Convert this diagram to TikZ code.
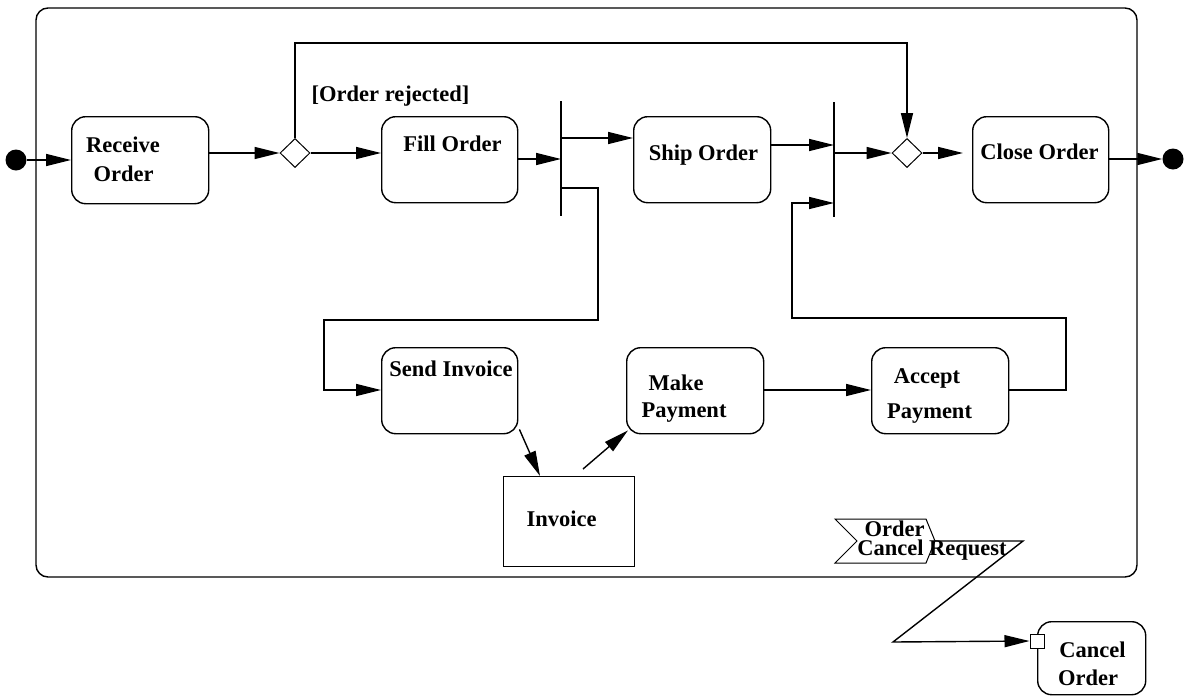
\documentclass[tikz,border=0pt]{standalone}
\usepackage{fontspec}
\setmainfont{Liberation Serif}
\usetikzlibrary{arrows.meta,shapes.geometric,calc}
\begin{document}
\begin{tikzpicture}[x=1pt,y=-1pt,
  every node/.style={font=\fontsize{22.5}{27}\selectfont\bfseries},
  act/.style={draw,line width=1.4pt,rounded corners=14pt,inner sep=0pt,anchor=north west},
  obj/.style={draw,line width=1.4pt,inner sep=0pt,anchor=north west},
  txt/.style={anchor=base,inner sep=0pt},
  dec/.style={draw,diamond,line width=1pt,inner sep=0pt,minimum width=30pt,minimum height=29pt},
  dot/.style={circle,fill=black,inner sep=0pt,minimum size=21pt},
  barnode/.style={inner sep=0pt,minimum width=0pt,minimum height=114pt},
  flow/.style={line width=1.4pt,-{Triangle[length=25pt,width=12pt]}}]
\useasboundingbox (0,0) rectangle (1184,697);

% activity frame
\draw[line width=1.4pt,rounded corners=12pt] (36,8) rectangle (1137,577);

% initial and final nodes
\node[dot] (ini) at (16,160) {};
\node[dot] (fin) at (1173,159) {};

% actions
\node[act,minimum width=137pt,minimum height=87pt] (recv) at (71,116) {};
\node[act,minimum width=136pt,minimum height=86pt] (fill) at (381,116) {};
\node[act,minimum width=137pt,minimum height=86pt] (ship) at (633,116) {};
\node[act,minimum width=136pt,minimum height=86pt] (close) at (972,116) {};
\node[act,minimum width=136pt,minimum height=86pt] (send) at (381,347) {};
\node[act,minimum width=137pt,minimum height=86pt] (make) at (626,347) {};
\node[act,minimum width=137pt,minimum height=86pt] (accept) at (871,347) {};
\node[act,minimum width=108pt,minimum height=73pt] (cancel) at (1037,621) {};
\node[obj,minimum width=131pt,minimum height=90pt] (inv) at (503,476) {};

% labels of the actions
\node[txt] (recvA) at (123,152.7) {Receive};
\node[txt] (recvB) at (123.5,181.7) {Order};
\node[txt] (fillT) at (452.5,151.7) {Fill Order};
\node[txt] (shipT) at (703.5,160) {Ship Order};
\node[txt] (closeT) at (1039.5,159) {Close Order};
\node[txt] (sendT) at (451,376) {Send Invoice};
\node[txt] (invT) at (561.5,526.5) {Invoice};
\node[txt] (makeA) at (676,390) {Make};
\node[txt] (makeB) at (684,417) {Payment};
\node[txt] (accA) at (927,383) {Accept};
\node[txt] (accB) at (929.5,418) {Payment};
\node[txt] (cancA) at (1092.5,657) {Cancel};
\node[txt] (cancB) at (1088,685) {Order};
\node[txt] (guard) at (390.5,101.7) {[Order rejected]};

% decision / merge nodes
\node[dec] (d1) at (295,153) {};
\node[dec] (d2) at (907,153) {};

% fork and join bars
\node[barnode] (fork) at (561,158.5) {};
\node[barnode] (join) at (834,159.5) {};
\draw[line width=2pt] (fork.north) -- (fork.south);
\draw[line width=2pt] (join.north) -- (join.south);

% accept event action with its pin target
\draw[line width=1pt] (835,519) -- (926,519) -- (935,541) -- (926,563) -- (835,563) -- (857,541) -- cycle;
\coordinate (sig) at (935,541);
\node[txt] (sigA) at (894.5,536) {Order};
\node[txt] (sigB) at (932,555) {Cancel Request};
\node[draw,line width=1pt,inner sep=0pt,minimum size=14pt,fill=white] (pin) at (1037,641) {};

% control flows
\draw[flow] (ini.east) -- (recv.west |- ini);
\draw[flow] (recv.east |- d1) -- (d1.west);
\draw[flow] (d1.east) -- (fill.west |- d1);
\draw[flow] (d1.north) -- (d1.north |- 0,43) -| (d2.north);
\draw[flow] (fill.east |- 0,159) -- (fork.center |- 0,159);
\draw[flow] (fork.center |- 0,138) -- (ship.west |- 0,138);
\draw[flow] (fork.center |- 0,188) -- (598,188) -- (598,320) -- (324,320) -- (324,390) -- (send.west |- 0,390);
\draw[flow] ([shift={(1,-5)}]send.south east) -- ($(inv.north west)+(37,0)$);
\draw[flow] ($(inv.north west)+(80,-7)$) -- ([shift={(2,-4)}]make.south west);
\draw[flow] (make.east |- 0,390) -- (accept.west |- 0,390);
\draw[flow] (accept.east |- 0,390) -- (1066,390) -- (1066,318) -- (792,318) -- (792,203) -- (join.center |- 0,203);
\draw[flow] (ship.east |- 0,145) -- (join.center |- 0,145);
\draw[flow] (join.center |- d2) -- (d2.west);
\draw[flow] (d2.east) -- ([xshift=-9pt]close.west |- d2);
\draw[flow] (close.east |- fin) -- (fin.west);

% interrupting edge
\draw[flow] (sig) -- (1023,541) -- (893,642) -- (pin.west);
\end{tikzpicture}
\end{document}
